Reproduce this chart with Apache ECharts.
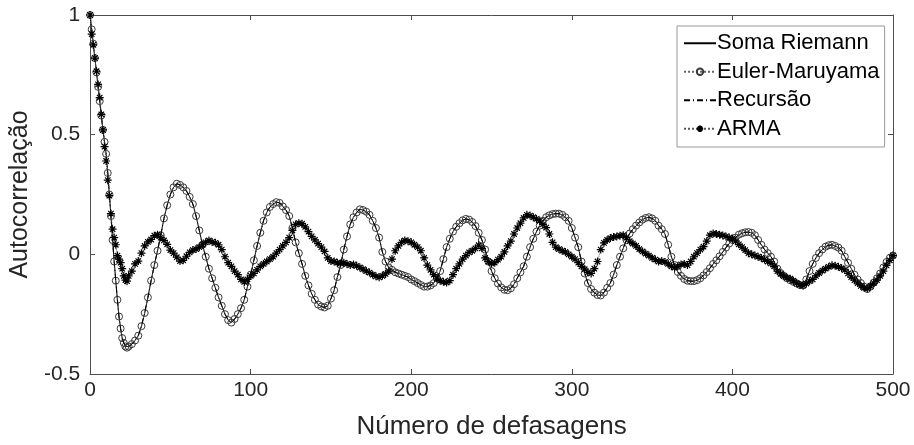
<!DOCTYPE html>
<html>
<head>
<meta charset="utf-8">
<script src="https://cdn.jsdelivr.net/npm/echarts@6/dist/echarts.min.js"></script>
<style>
  html, body { margin: 0; padding: 0; background: #fff; }
  #main { width: 914px; height: 445px; }
</style>
</head>
<body>
<div id="main"></div>
<script>
// ---- data ----
// lags: every lag 0..24, then every 2nd lag 26..500
var lagsHead = [0, 1, 2, 3, 4, 5, 6, 7, 8, 9, 10, 11, 12, 13, 14, 15, 16, 17, 18, 19, 20, 21, 22, 23, 24];
var lagsTail = [];
for (var l = 26; l <= 500; l += 2) lagsTail.push(l);
var lags = lagsHead.concat(lagsTail);

var xTicks = [0, 100, 200, 300, 400, 500];
var yTicks = [-0.5, 0, 0.5, 1];

var seriesNames = ['Soma Riemann', 'Euler-Maruyama', 'Recursão', 'ARMA'];

// Euler-Maruyama (circles) - Soma Riemann / Recursao lie on top of it
var eulerMaruyama = [
  1.00, 0.94, 0.88, 0.82, 0.76, 0.70, 0.64, 0.58, 0.52, 0.47, 0.42, 0.34, 0.25, 0.16, 0.06,
  -0.03, -0.11, -0.19, -0.26, -0.31, -0.35, -0.37, -0.385, -0.39, -0.385,
  // 26..44
  -0.375, -0.36, -0.34, -0.30, -0.245, -0.18, -0.11, -0.045, 0.015, 0.08,
  // 46..64
  0.15, 0.205, 0.25, 0.28, 0.295, 0.29, 0.28, 0.265, 0.24, 0.21,
  // 66..84
  0.16, 0.10, 0.04, -0.01, -0.06, -0.10, -0.14, -0.18, -0.215, -0.25,
  // 86..104
  -0.275, -0.285, -0.27, -0.25, -0.225, -0.19, -0.135, -0.085, -0.025, 0.035,
  // 106..124
  0.09, 0.14, 0.175, 0.198, 0.21, 0.218, 0.215, 0.20, 0.185, 0.16,
  // 126..144
  0.11, 0.05, 0.005, -0.04, -0.09, -0.13, -0.165, -0.19, -0.21, -0.218,
  // 146..164
  -0.222, -0.215, -0.185, -0.15, -0.095, -0.045, 0.02, 0.075, 0.125, 0.155,
  // 166..184
  0.175, 0.188, 0.185, 0.178, 0.165, 0.14, 0.11, 0.07, 0.01, -0.03,
  // 186..204
  -0.055, -0.065, -0.075, -0.08, -0.085, -0.09, -0.095, -0.105, -0.112, -0.12,
  // 206..224
  -0.128, -0.135, -0.135, -0.13, -0.12, -0.10, -0.07, -0.02, 0.03, 0.065,
  // 226..244
  0.095, 0.115, 0.13, 0.142, 0.148, 0.145, 0.135, 0.118, 0.09, 0.06,
  // 246..264
  0.02, -0.03, -0.07, -0.10, -0.122, -0.138, -0.148, -0.15, -0.142, -0.125,
  // 266..284
  -0.10, -0.075, -0.05, -0.01, 0.03, 0.065, 0.095, 0.12, 0.14, 0.155,
  // 286..304
  0.163, 0.168, 0.17, 0.17, 0.165, 0.155, 0.14, 0.11, 0.07, 0.03,
  // 306..324
  -0.03, -0.08, -0.12, -0.145, -0.16, -0.17, -0.172, -0.16, -0.14, -0.12,
  // 326..344
  -0.085, -0.045, -0.01, 0.025, 0.06, 0.087, 0.105, 0.12, 0.133, 0.145,
  // 346..364
  0.152, 0.155, 0.15, 0.14, 0.12, 0.105, 0.085, 0.04, -0.01, -0.045,
  // 366..384
  -0.074, -0.09, -0.103, -0.11, -0.112, -0.112, -0.108, -0.10, -0.088, -0.074,
  // 386..404
  -0.058, -0.04, -0.025, -0.008, 0.01, 0.028, 0.045, 0.06, 0.07, 0.082,
  // 406..424
  0.088, 0.092, 0.093, 0.09, 0.08, 0.06, 0.04, 0.02, 0.005, -0.01,
  // 426..444
  -0.03, -0.06, -0.078, -0.09, -0.1, -0.108, -0.115, -0.122, -0.128, -0.13,
  // 446..464
  -0.105, -0.07, -0.04, -0.015, 0.005, 0.02, 0.032, 0.038, 0.04, 0.035,
  // 466..484
  0.028, 0.015, -0.01, -0.035, -0.06, -0.085, -0.105, -0.12, -0.135, -0.145,
  // 486..500
  -0.135, -0.118, -0.1, -0.08, -0.055, -0.032, -0.015, -0.005
];

// the solid and dash-dot curves sit under the circles
var somaRiemann = eulerMaruyama;
var recursao = eulerMaruyama;

// ARMA (stars)
var arma = [
  1.0, 0.92, 0.875, 0.82, 0.765, 0.71, 0.655, 0.585, 0.52, 0.45, 0.39, 0.31, 0.245, 0.17, 0.105,
  0.07, 0.04, -0.005, -0.02, -0.035, -0.06, -0.09, -0.108, -0.112, -0.09,
  // 26..44
  -0.07, -0.04, -0.028, 0.005, 0.035, 0.052, 0.062, 0.078, 0.082, 0.07,
  // 46..64
  0.058, 0.042, 0.018, 0.005, -0.012, -0.028, -0.025, -0.008, 0.008, 0.018,
  // 66..84
  0.022, 0.03, 0.04, 0.05, 0.058, 0.052, 0.048, 0.04, 0.02, -0.01,
  // 86..104
  -0.035, -0.05, -0.07, -0.085, -0.105, -0.115, -0.105, -0.09, -0.08, -0.065,
  // 106..124
  -0.05, -0.04, -0.03, -0.02, -0.01, 0.005, 0.02, 0.035, 0.05, 0.07,
  // 126..144
  0.1, 0.125, 0.13, 0.128, 0.115, 0.095, 0.075, 0.06, 0.045, 0.03,
  // 146..164
  0.012, -0.015, -0.028, -0.03, -0.035, -0.038, -0.035, -0.04, -0.045, -0.042,
  // 166..184
  -0.048, -0.055, -0.062, -0.07, -0.076, -0.085, -0.092, -0.096, -0.09, -0.082,
  // 186..204
  -0.07, -0.02, 0.015, 0.035, 0.05, 0.058, 0.055, 0.05, 0.04, 0.03,
  // 206..224
  0.015, -0.015, -0.045, -0.065, -0.085, -0.1, -0.11, -0.115, -0.118, -0.11,
  // 226..244
  -0.085, -0.06, -0.04, -0.02, -0.005, 0.008, 0.015, 0.025, 0.038, 0.025,
  // 246..264
  -0.015, -0.03, -0.038, -0.035, -0.022, -0.01, 0.01, 0.035, 0.055, 0.085,
  // 266..284
  0.11, 0.13, 0.152, 0.165, 0.162, 0.155, 0.148, 0.14, 0.125, 0.112,
  // 286..304
  0.085, 0.05, 0.03, 0.022, 0.015, 0.01, 0.0, -0.01, -0.02, -0.035,
  // 306..324
  -0.05, -0.062, -0.075, -0.08, -0.06, -0.03, 0.02, 0.048, 0.06, 0.068,
  // 326..344
  0.072, 0.075, 0.078, 0.08, 0.07, 0.055, 0.045, 0.035, 0.022, 0.012,
  // 346..364
  0.003, -0.005, -0.015, -0.022, -0.03, -0.028, -0.032, -0.04, -0.05, -0.055,
  // 366..384
  -0.05, -0.042, -0.04, -0.045, -0.03, -0.01, 0.005, 0.02, 0.032, 0.055,
  // 386..404
  0.08, 0.087, 0.085, 0.082, 0.079, 0.075, 0.07, 0.066, 0.055, 0.042,
  // 406..424
  0.03, 0.018, 0.005, 0.0, -0.005, -0.01, -0.015, -0.022, -0.03, -0.038,
  // 426..444
  -0.05, -0.07, -0.082, -0.09, -0.098, -0.102, -0.11, -0.12, -0.128, -0.13,
  // 446..464
  -0.122, -0.112, -0.105, -0.09, -0.078, -0.068, -0.06, -0.052, -0.046, -0.048,
  // 466..484
  -0.052, -0.058, -0.065, -0.08, -0.095, -0.108, -0.12, -0.132, -0.14, -0.143,
  // 486..500
  -0.132, -0.12, -0.108, -0.09, -0.07, -0.046, -0.025, -0.005
];

function pairs(vals) {
  if (vals.length !== lags.length) console.warn('length mismatch', vals.length, lags.length);
  var out = [];
  for (var i = 0; i < lags.length && i < vals.length; i++) out.push([lags[i], vals[i]]);
  return out;
}

var font = "'Liberation Sans', Arial, Helvetica, sans-serif";
var textColor = '#262626';
var frameColor = '#4d4d4d';
var starPath = 'path://M5,0L5,10M0,5L10,5M1.6,1.6L8.4,8.4M8.4,1.6L1.6,8.4';
var noMarker = { color: 'rgba(0,0,0,0)', borderColor: 'rgba(0,0,0,0)', borderWidth: 0 };

var myChart = echarts.init(document.getElementById('main'));

var xBase = {
  type: 'value',
  min: xTicks[0],
  max: xTicks[xTicks.length - 1],
  interval: xTicks[1] - xTicks[0],
  splitLine: { show: false },
  axisLine: { show: true, onZero: false, lineStyle: { color: frameColor, width: 1 } },
  axisTick: { show: true, inside: true, length: 5, lineStyle: { color: frameColor } }
};
var yBase = {
  type: 'value',
  min: yTicks[0],
  max: yTicks[yTicks.length - 1],
  interval: yTicks[1] - yTicks[0],
  splitLine: { show: false },
  axisLine: { show: true, onZero: false, lineStyle: { color: frameColor, width: 1 } },
  axisTick: { show: true, inside: true, length: 5, lineStyle: { color: frameColor } }
};

var option = {
  animation: false,
  backgroundColor: '#fff',
  grid: { left: 90, right: 21, top: 15, bottom: 71, containLabel: false },
  legend: {
    orient: 'vertical',
    left: 677,
    top: 26,
    padding: [5, 5, 6, 6],
    itemWidth: 32,
    itemHeight: 8,
    itemGap: 4,
    borderColor: '#999',
    borderWidth: 1,
    backgroundColor: '#fff',
    textStyle: { fontFamily: font, fontSize: 22, color: '#000', padding: [0, 0, 0, -4], lineHeight: 24.5 },
    data: [
      { name: seriesNames[0], itemStyle: noMarker },
      { name: seriesNames[1] },
      { name: seriesNames[2], itemStyle: noMarker },
      { name: seriesNames[3] }
    ]
  },
  xAxis: [
    Object.assign({}, xBase, {
      position: 'bottom',
      name: 'Número de defasagens',
      nameLocation: 'middle',
      nameGap: 40,
      nameTextStyle: { fontFamily: font, fontSize: 26, color: textColor },
      axisLabel: { fontFamily: font, fontSize: 21, color: textColor, margin: 6 }
    }),
    Object.assign({}, xBase, { position: 'top', axisLabel: { show: false } })
  ],
  yAxis: [
    Object.assign({}, yBase, {
      position: 'left',
      name: 'Autocorrelação',
      nameLocation: 'middle',
      nameGap: 47,
      nameTextStyle: { fontFamily: font, fontSize: 25, color: textColor },
      axisLabel: { fontFamily: font, fontSize: 21, color: textColor, margin: 10 }
    }),
    Object.assign({}, yBase, { position: 'right', axisLabel: { show: false } })
  ],
  series: [
    {
      name: seriesNames[0],
      type: 'line',
      data: pairs(somaRiemann),
      symbol: 'none',
      lineStyle: { color: '#000', width: 1 },
      itemStyle: { color: '#000' },
      z: 2
    },
    {
      name: seriesNames[1],
      type: 'line',
      data: pairs(eulerMaruyama),
      symbol: 'circle',
      symbolSize: 7,
      showAllSymbol: true,
      lineStyle: { color: '#666', width: 1, type: 'dotted' },
      itemStyle: { color: 'rgba(0,0,0,0)', borderColor: '#3a3a3a', borderWidth: 1 },
      z: 3
    },
    {
      name: seriesNames[2],
      type: 'line',
      data: pairs(recursao),
      symbol: 'none',
      lineStyle: { color: '#000', width: 1, type: [6, 3, 1, 3] },
      itemStyle: { color: '#000' },
      z: 4
    },
    {
      name: seriesNames[3],
      type: 'line',
      data: pairs(arma),
      symbol: starPath,
      symbolSize: 8,
      showAllSymbol: true,
      lineStyle: { color: '#555', width: 1, type: 'dotted' },
      itemStyle: { color: 'rgba(0,0,0,0)', borderColor: '#000', borderWidth: 1.2 },
      z: 5
    }
  ]
};

myChart.setOption(option);
</script>
</body>
</html>
